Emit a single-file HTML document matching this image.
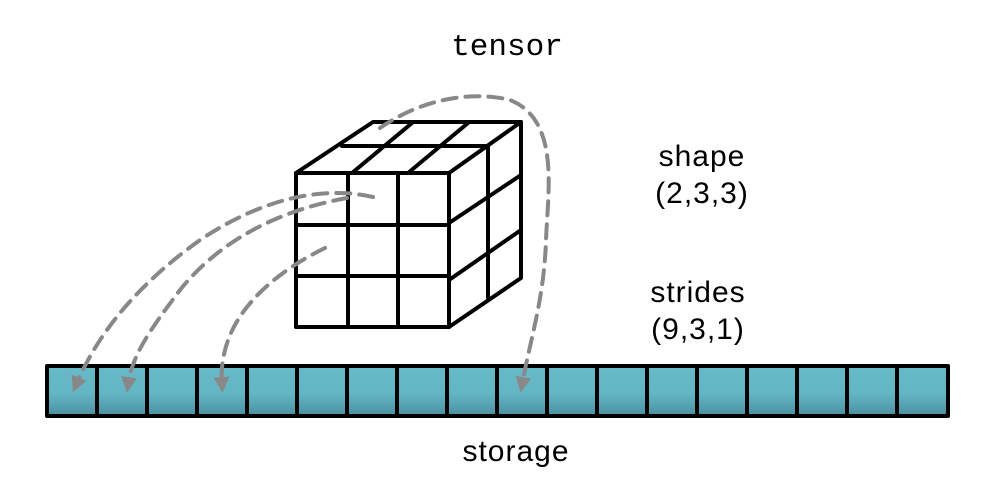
<!DOCTYPE html>
<html><head><style>
html,body{margin:0;padding:0;background:#fff;}
svg{display:block;}
</style></head><body>
<svg width="1000" height="487" viewBox="0 0 1000 487" xmlns="http://www.w3.org/2000/svg">
<defs>
<linearGradient id="g" x1="0" y1="0" x2="0" y2="1">
<stop offset="0" stop-color="#68bac9"/><stop offset="0.55" stop-color="#63b5c4"/><stop offset="1" stop-color="#4a8fa1"/>
</linearGradient>
<marker id="ar" viewBox="0 0 10 10" refX="5" refY="5" markerWidth="4" markerHeight="4" orient="auto-start-reverse">
<path d="M0,0 L10,5 L0,10 z" fill="#888"/>
</marker>
</defs>
<text x="507" y="55" font-family="Liberation Mono, monospace" font-size="31" text-anchor="middle" fill="#000">tensor</text>
<g font-family="Liberation Sans, sans-serif" font-size="30" text-anchor="middle" letter-spacing="1">
<text x="702" y="166">shape</text>
<text x="702" y="203">(2,3,3)</text>
<text x="698" y="302">strides</text>
<text x="698" y="339">(9,3,1)</text>
<text x="516" y="461">storage</text>
</g>

<g stroke="#000" stroke-width="4" fill="none" stroke-linecap="round" stroke-linejoin="round">
<rect x="47" y="366" width="901" height="50" fill="url(#g)"/>
<path d="M97,366V416M147,366V416M197,366V416M247,366V416M297,366V416M347,366V416M397,366V416M447,366V416M497,366V416M547,366V416M597,366V416M647,366V416M697,366V416M747,366V416M797,366V416M847,366V416M897,366V416"/>
</g>

<g stroke="#000" stroke-width="4" fill="none" stroke-linecap="round" stroke-linejoin="round">
<rect x="296" y="173" width="153" height="154" fill="#fff"/>
<path d="M348,173V327M398,173V327M296,225H449M296,276H449"/>
<path d="M296,173L373,122H521L449,173"/>
<path d="M352,173L412,123M408,173L468,123"/>
<path d="M342,146H488V298"/>
<path d="M521,122V278L449,327"/>
<path d="M449,223L521,175M449,280L521,230"/>
</g>

<g stroke="#888" stroke-width="4" fill="none" stroke-dasharray="14,9" stroke-linecap="round">
<path d="M380,128 C420,100 470,90 510,100 C560,120 548,190 546,240 C544,300 530,340 522,385" marker-end="url(#ar)"/>
<path d="M373,197 C320,185 260,200 200,240 C130,290 95,340 76,385" marker-end="url(#ar)"/>
<path d="M347,198 C280,210 220,240 180,290 C150,330 132,355 128,385" marker-end="url(#ar)"/>
<path d="M325,248 C280,270 245,300 230,335 C222,355 221,370 222,385" marker-end="url(#ar)"/>
</g>
</svg>
</body></html>
